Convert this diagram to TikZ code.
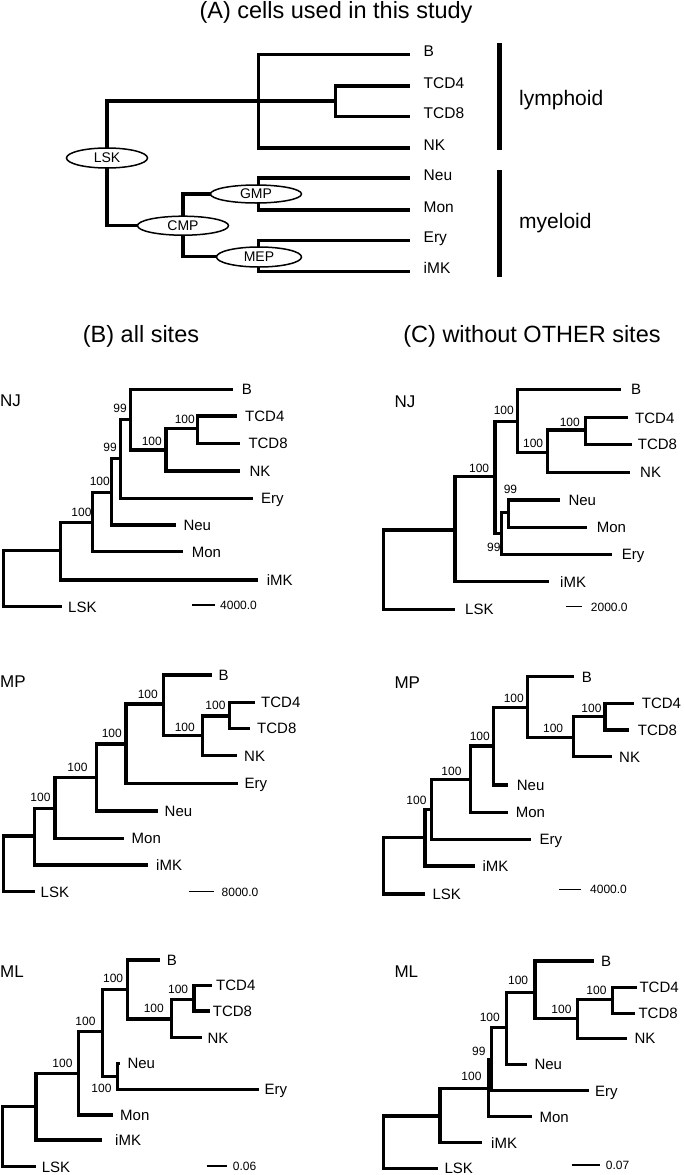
\documentclass[tikz,border=0pt]{standalone}
\usepackage{fontspec}
\setmainfont{Liberation Sans}
\usetikzlibrary{shapes.geometric}
\pgfdeclarelayer{bg}
\pgfsetlayers{bg,main}
\newcommand\tleaf[5]{\coordinate (#1) at (#2,#3); \node[leaflab] (#1t) at (#4,#3) {#5};}
\newcommand\aleaf[3]{\coordinate (#1) at (410,#2); \node[alab] (#1t) at (423.5,#2) {#3};}
\begin{document}
\begin{tikzpicture}[x=1pt,y=-1pt,
  br/.style={line width=3.4pt},
  leaflab/.style={font=\fontsize{15}{18}\selectfont, inner sep=0pt, anchor=base west, yshift=-5.4pt},
  alab/.style={font=\fontsize{15.5}{18}\selectfont, inner sep=0pt, anchor=base west, yshift=-2pt},
  bs/.style={font=\fontsize{12}{14}\selectfont, inner sep=0pt, anchor=base east},
  sb/.style={line width=1.4pt},
  sblab/.style={font=\fontsize{12}{14}\selectfont, inner sep=0pt, anchor=base west, yshift=-4.3pt},
  meth/.style={font=\fontsize{17}{20}\selectfont, inner sep=0pt, anchor=base west},
  ttl/.style={font=\fontsize{23.5}{26}\selectfont, inner sep=0pt, anchor=base},
  grp/.style={font=\fontsize{21}{24}\selectfont, inner sep=0pt, anchor=base west},
  bar/.style={line width=5pt},
  ell/.style={ellipse, draw, line width=1.5pt, fill=white, inner sep=0pt, font=\fontsize{14}{16}\selectfont, minimum height=20pt}
]
\useasboundingbox (0,0) rectangle (685,1175);
\begin{pgfonlayer}{bg}
\fill[white] (0,0) rectangle (685,1175);
\end{pgfonlayer}

% ---------------- Panel A ----------------
\node[ttl] (tA) at (336,19) {(A) cells used in this study};
\node[ell, minimum width=81pt] (lsk) at (107,158) {LSK};
\node[ell, minimum width=91pt, minimum height=19pt] (cmp) at (183,225.7) {CMP};
\node[ell, minimum width=91pt, minimum height=18pt] (gmp) at (256,194) {GMP};
\node[ell, minimum width=85pt] (mep) at (259,257) {MEP};
\coordinate (aL) at (258.5,101);
\coordinate (aT) at (335.7,101);
\coordinate (aG) at (258.5,194);
\coordinate (aM) at (258.5,256.2);
\aleaf{aB}{54.3}{B}
\aleaf{aT4}{86}{TCD4}
\aleaf{aT8}{116.7}{TCD8}
\aleaf{aNK}{148}{NK}
\aleaf{aNeu}{178}{Neu}
\aleaf{aMon}{210}{Mon}
\aleaf{aEry}{240.7}{Ery}
\aleaf{aiMK}{271.7}{iMK}
\begin{pgfonlayer}{bg}
\draw[br] (lsk.center) |- (aT);
\draw[br] (lsk.center) |- (cmp.center);
\draw[br] (cmp.center) |- (aG);
\draw[br] (cmp.center) |- (aM);
\foreach \p/\c in {aL/aB, aL/aNK, aT/aT4, aT/aT8, aG/aNeu, aG/aMon, aM/aEry, aM/aiMK}
  \draw[br] (\p) |- (\c);
\end{pgfonlayer}
\coordinate (ly1) at (499,43); \coordinate (ly2) at (499,150);
\coordinate (my1) at (499,170); \coordinate (my2) at (499,277);
\draw[bar] (ly1) -- (ly2);
\draw[bar] (my1) -- (my2);
\node[grp] (lym) at (519,105.5) {lymphoid};
\node[grp] (mye) at (519,228.5) {myeloid};

% ---------------- Titles B, C ----------------
\node[ttl] (tB) at (141,342.5) {(B) all sites};
\node[ttl] (tC) at (532,342.5) {(C) without OTHER sites};

% ---------------- B NJ ----------------
\node[meth] (bnM) at (0,406) {NJ};
\coordinate (bnr) at (3.3,578);
\coordinate (bn1) at (60.7,550.7);
\coordinate (bn2) at (92.7,522.3);
\coordinate (bn3) at (111.7,492.3);
\coordinate (bn4) at (120.7,458.3);
\coordinate (bn5) at (130.7,419.3);
\coordinate (bn6) at (166,450);
\coordinate (bn7) at (197.3,428.3);
\tleaf{bnLSK}{61.7}{606.7}{68}{LSK}
\tleaf{bniMK}{257.7}{580}{266.7}{iMK}
\tleaf{bnMon}{183.3}{551.7}{191.7}{Mon}
\tleaf{bnNeu}{175.7}{525}{183.3}{Neu}
\tleaf{bnEry}{253.3}{498.3}{261}{Ery}
\tleaf{bnB}{233.3}{389.3}{241.7}{B}
\tleaf{bnNK}{240}{471}{249.3}{NK}
\tleaf{bnT4}{236.7}{416}{245}{TCD4}
\tleaf{bnT8}{240}{443.3}{248.3}{TCD8}
\foreach \p/\c in {bnr/bn1, bnr/bnLSK, bn1/bn2, bn1/bniMK, bn2/bn3, bn2/bnMon, bn3/bn4, bn3/bnNeu, bn4/bn5, bn4/bnEry, bn5/bnB, bn5/bn6, bn6/bn7, bn6/bnNK, bn7/bnT4, bn7/bnT8}
  \draw[br] (\p) |- (\c);
\node[bs] at (91.7,516.6) {100};
\node[bs] at (110,485.3) {100};
\node[bs] at (117,451.6) {99};
\node[bs] at (127,412.6) {99};
\node[bs] at (162,445.3) {100};
\node[bs] at (195,423.6) {100};
\coordinate (bnS1) at (192.3,605); \coordinate (bnS2) at (215,605);
\draw[sb] (bnS1) -- (bnS2);
\node[sblab] (bnSl) at (220,605) {4000.0};

% ---------------- C NJ ----------------
\node[meth] (cnM) at (394.3,407.7) {NJ};
\coordinate (cnr) at (383.3,570);
\coordinate (cn1) at (455,530);
\coordinate (cn2) at (495,476.7);
\coordinate (cn3) at (517.3,421.7);
\coordinate (cn4) at (547.7,452.3);
\coordinate (cn5) at (585.7,430);
\coordinate (cn8) at (501.7,533.3);
\coordinate (cn9) at (508.3,512.7);
\tleaf{cnLSK}{455}{609.3}{465}{LSK}
\tleaf{cniMK}{549}{581.7}{560}{iMK}
\tleaf{cnB}{621}{389.3}{631}{B}
\tleaf{cnT4}{628.3}{417.7}{635}{TCD4}
\tleaf{cnT8}{632.3}{444.3}{637.7}{TCD8}
\tleaf{cnNK}{630}{472.3}{640}{NK}
\tleaf{cnNeu}{560}{500}{568.3}{Neu}
\tleaf{cnMon}{587.3}{527.3}{596.7}{Mon}
\tleaf{cnEry}{611.7}{554.3}{621.7}{Ery}
\foreach \p/\c in {cnr/cn1, cnr/cnLSK, cn1/cn2, cn1/cniMK, cn2/cn3, cn2/cn8, cn3/cnB, cn3/cn4, cn4/cn5, cn4/cnNK, cn5/cnT4, cn5/cnT8, cn8/cn9, cn8/cnEry, cn9/cnNeu, cn9/cnMon}
  \draw[br] (\p) |- (\c);
\node[bs] at (489.3,472) {100};
\node[bs] at (514,414.3) {100};
\node[bs] at (543.3,447) {100};
\node[bs] at (580,426) {100};
\node[bs] at (517.3,493.6) {99};
\node[bs] at (500.7,551) {99};
\coordinate (cnS1) at (566,606.7); \coordinate (cnS2) at (582.3,606.7);
\draw[sb] (cnS1) -- (cnS2);
\node[sblab] (cnSl) at (590.7,606.7) {2000.0};

% ---------------- B MP ----------------
\node[meth] (bmM) at (0,687) {MP};
\coordinate (bmr) at (3.4,864);
\coordinate (bm1) at (34.5,836);
\coordinate (bm2) at (55,808.3);
\coordinate (bm3) at (96.7,777.5);
\coordinate (bm4) at (126,744);
\coordinate (bm5) at (163.3,704);
\coordinate (bm6) at (202.7,735.7);
\coordinate (bm7) at (229.3,716);
\tleaf{bmLSK}{35}{891.7}{40.5}{LSK}
\tleaf{bmiMK}{147.5}{865}{156}{iMK}
\tleaf{bmMon}{124}{838.3}{131.5}{Mon}
\tleaf{bmNeu}{157.5}{811}{164.5}{Neu}
\tleaf{bmEry}{238}{783.3}{244.5}{Ery}
\tleaf{bmB}{211.7}{675}{218.3}{B}
\tleaf{bmNK}{237}{755.7}{244}{NK}
\tleaf{bmT4}{255}{702.3}{261}{TCD4}
\tleaf{bmT8}{250}{728.3}{257}{TCD8}
\foreach \p/\c in {bmr/bm1, bmr/bmLSK, bm1/bm2, bm1/bmiMK, bm2/bm3, bm2/bmMon, bm3/bm4, bm3/bmNeu, bm4/bm5, bm4/bmEry, bm5/bmB, bm5/bm6, bm6/bm7, bm6/bmNK, bm7/bmT4, bm7/bmT8}
  \draw[br] (\p) |- (\c);
\node[bs] at (50.7,801.6) {100};
\node[bs] at (87.7,771.6) {100};
\node[bs] at (122,737.6) {100};
\node[bs] at (158,698.3) {100};
\node[bs] at (195,731) {100};
\node[bs] at (225.7,709.3) {100};
\coordinate (bmS1) at (189.4,891.7); \coordinate (bmS2) at (214,891.7);
\draw[sb] (bmS1) -- (bmS2);
\node[sblab] (bmSl) at (221.5,891.7) {8000.0};

% ---------------- C MP ----------------
\node[meth] (cmM) at (394.3,688.7) {MP};
\coordinate (cmr) at (383.3,865);
\coordinate (cm1) at (425,837.3);
\coordinate (cm2) at (431.7,809.3);
\coordinate (cm3) at (470.7,779.3);
\coordinate (cm4) at (493.3,746);
\coordinate (cm5) at (527.7,707.3);
\coordinate (cm6) at (573.3,737.3);
\coordinate (cm7) at (605,716.7);
\tleaf{cmLSK}{425}{894}{432.3}{LSK}
\tleaf{cmiMK}{475}{866}{482.3}{iMK}
\tleaf{cmEry}{530.7}{839.3}{539.3}{Ery}
\tleaf{cmMon}{508.3}{812.3}{515.7}{Mon}
\tleaf{cmNeu}{507.7}{785}{516.7}{Neu}
\tleaf{cmB}{574}{676.7}{581.7}{B}
\tleaf{cmNK}{611.7}{756.7}{619}{NK}
\tleaf{cmT4}{634.3}{703.3}{641.7}{TCD4}
\tleaf{cmT8}{629}{730}{637.7}{TCD8}
\foreach \p/\c in {cmr/cm1, cmr/cmLSK, cm1/cm2, cm1/cmiMK, cm2/cm3, cm2/cmEry, cm3/cm4, cm3/cmMon, cm4/cm5, cm4/cmNeu, cm5/cmB, cm5/cm6, cm6/cm7, cm6/cmNK, cm7/cmT4, cm7/cmT8}
  \draw[br] (\p) |- (\c);
\node[bs] at (426.7,804.3) {100};
\node[bs] at (461.7,775.3) {100};
\node[bs] at (490,740) {100};
\node[bs] at (524,702.6) {100};
\node[bs] at (563.3,732) {100};
\node[bs] at (601.7,712.6) {100};
\coordinate (cmS1) at (559.3,889.3); \coordinate (cmS2) at (581,889.3);
\draw[sb] (cmS1) -- (cmS2);
\node[sblab] (cmSl) at (590,889.3) {4000.0};

% ---------------- B ML ----------------
\node[meth] (blM) at (0,977.8) {ML};
\coordinate (blr) at (2.7,1137);
\coordinate (bl1) at (36,1106.7);
\coordinate (bl2) at (78.3,1073.3);
\coordinate (bl3) at (102.3,1031.7);
\coordinate (bl4) at (127.7,989.3);
\coordinate (bl5) at (171.7,1019);
\coordinate (bl6) at (194,999.3);
\coordinate (bl7) at (117.3,1076.7);
\tleaf{blLSK}{36}{1166.7}{41.7}{LSK}
\tleaf{bliMK}{101.7}{1140}{115}{iMK}
\tleaf{blMon}{113.3}{1115}{120}{Mon}
\tleaf{blB}{160}{960}{166.7}{B}
\tleaf{blNK}{202.3}{1037.7}{207.3}{NK}
\tleaf{blT4}{212.3}{985.3}{216}{TCD4}
\tleaf{blT8}{210}{1011}{212.7}{TCD8}
\tleaf{blNeu}{120}{1063.3}{127.3}{Neu}
\tleaf{blEry}{259}{1089.3}{264.5}{Ery}
\foreach \p/\c in {blr/bl1, blr/blLSK, bl1/bl2, bl1/bliMK, bl2/bl3, bl2/blMon, bl3/bl4, bl3/bl7, bl4/blB, bl4/bl5, bl5/bl6, bl5/blNK, bl6/blT4, bl6/blT8, bl7/blNeu, bl7/blEry}
  \draw[br] (\p) |- (\c);
\node[bs] at (72.7,1067.6) {100};
\node[bs] at (95.7,1025.3) {100};
\node[bs] at (123.3,982.6) {100};
\node[bs] at (164,1012.6) {100};
\node[bs] at (188.3,993.6) {100};
\node[bs] at (111.7,1092) {100};
\coordinate (blS1) at (206.7,1166); \coordinate (blS2) at (226.7,1166);
\draw[sb] (blS1) -- (blS2);
\node[sblab] (blSl) at (232.7,1166) {0.06};

% ---------------- C ML ----------------
\node[meth] (clM) at (394.3,977.8) {ML};
\coordinate (clr) at (383.3,1142);
\coordinate (cl1) at (440,1116);
\coordinate (cl2) at (488.3,1088.3);
\coordinate (cl3) at (491.7,1059.3);
\coordinate (cl4) at (506.7,1027.3);
\coordinate (cl5) at (535,992.7);
\coordinate (cl6) at (577.7,1018.3);
\coordinate (cl7) at (612.7,999.3);
\tleaf{clLSK}{437.7}{1168.3}{444.3}{LSK}
\tleaf{cliMK}{481.7}{1142.7}{491}{iMK}
\tleaf{clMon}{531.7}{1116.7}{539.3}{Mon}
\tleaf{clEry}{589.3}{1090.7}{595}{Ery}
\tleaf{clNeu}{526.7}{1064.3}{534.3}{Neu}
\tleaf{clB}{594.3}{961}{601}{B}
\tleaf{clNK}{626.7}{1038.3}{634.3}{NK}
\tleaf{clT4}{636.7}{987.3}{639.3}{TCD4}
\tleaf{clT8}{635}{1013.3}{638.3}{TCD8}
\foreach \p/\c in {clr/cl1, clr/clLSK, cl1/cl2, cl1/cliMK, cl2/cl3, cl2/clMon, cl3/cl4, cl3/clEry, cl4/cl5, cl4/clNeu, cl5/clB, cl5/cl6, cl6/cl7, cl6/clNK, cl7/clT4, cl7/clT8}
  \draw[br] (\p) |- (\c);
\node[bs] at (481.7,1080.3) {100};
\node[bs] at (485.7,1055) {99};
\node[bs] at (500,1021.6) {100};
\node[bs] at (528.3,984.3) {100};
\node[bs] at (571.7,1013.6) {100};
\node[bs] at (606.7,994.3) {100};
\coordinate (clS1) at (571.7,1165); \coordinate (clS2) at (600,1165);
\draw[sb] (clS1) -- (clS2);
\node[sblab] (clSl) at (605.7,1165) {0.07};
\end{tikzpicture}
\end{document}
